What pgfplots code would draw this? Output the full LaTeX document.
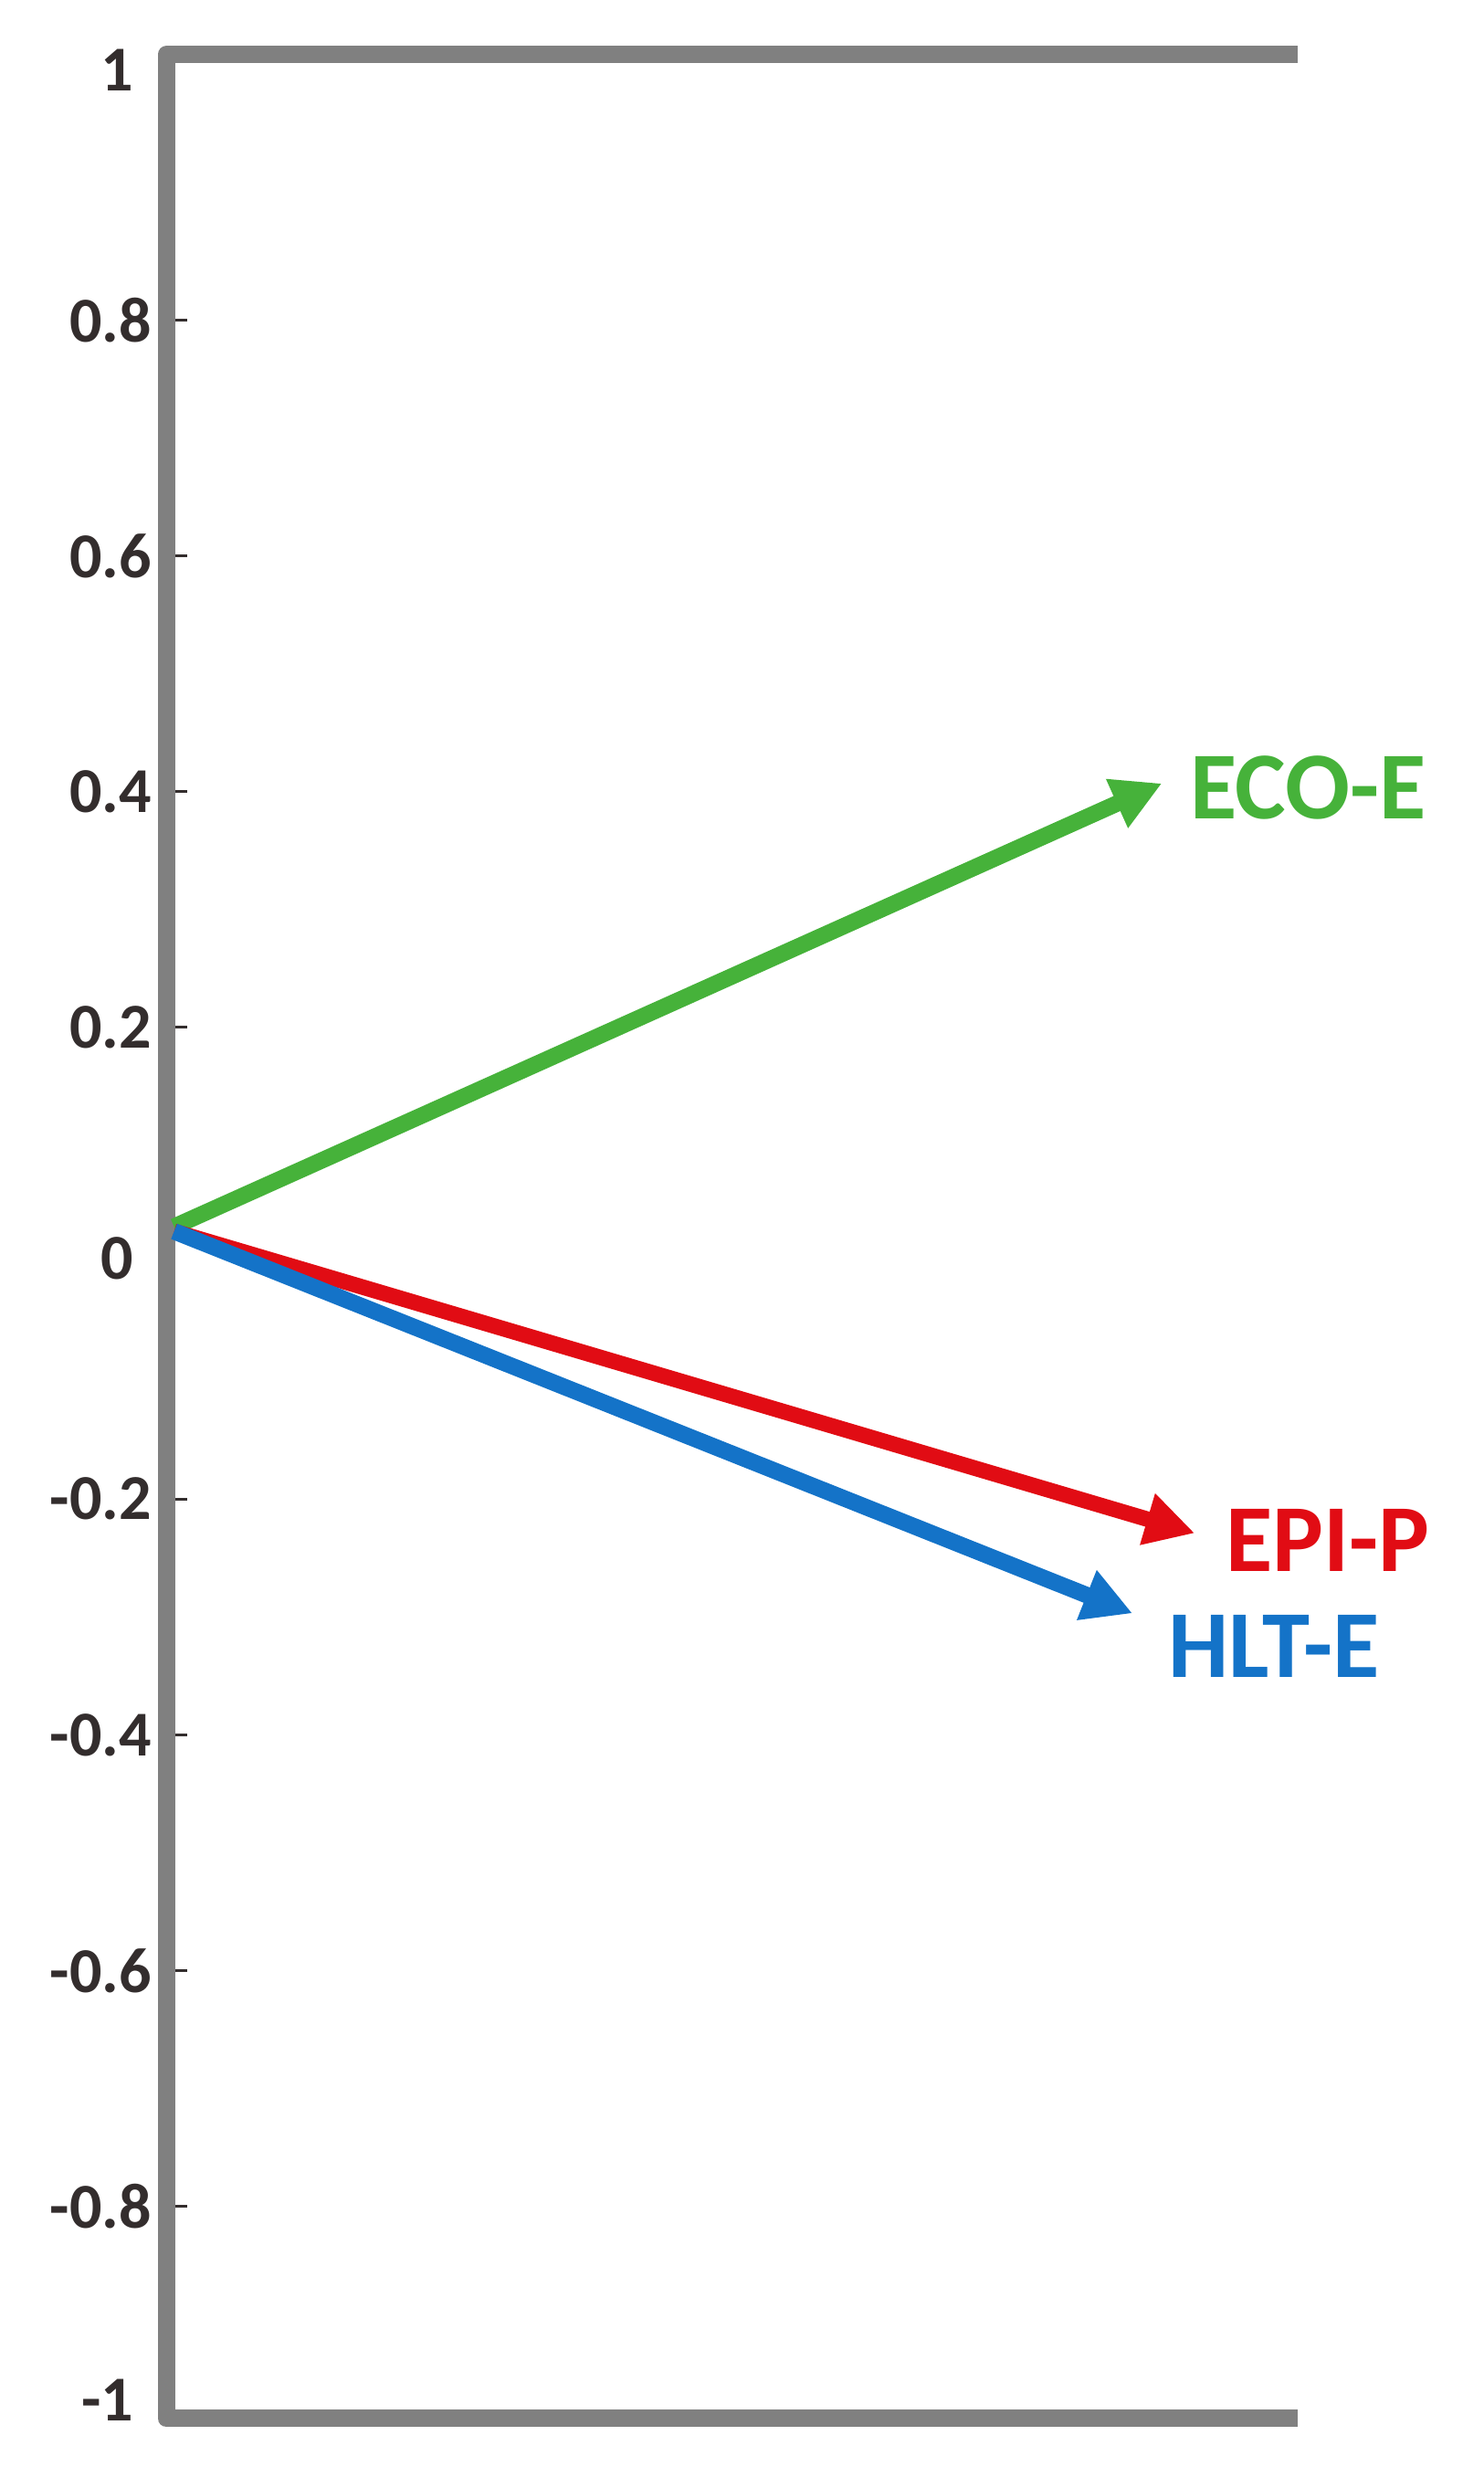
\documentclass[border=0pt]{standalone}
\usepackage{pgfplots}
\pgfplotsset{compat=1.18}
\usepackage{fontspec}
\setmainfont{Carlito}
\usetikzlibrary{arrows.meta}
\definecolor{ecoG}{RGB}{70,178,58}
\definecolor{epiR}{RGB}{225,12,20}
\definecolor{hltB}{RGB}{20,115,200}
\definecolor{axGray}{RGB}{128,128,128}
\definecolor{tickTxt}{RGB}{51,45,45}
\begin{document}
\begin{tikzpicture}
\path[use as bounding box] (0,0) rectangle (324.8pt,540.2pt);
\begin{axis}[
  at={(36.4pt,10.6pt)}, anchor=south west,
  scale only axis, width=247.8pt, height=517.6pt,
  xmin=0, xmax=1, ymin=-0.98, ymax=1.025,
  clip=false,
  hide x axis,
  axis y line*=left,
  y axis line style={draw=none},
  tick align=inside,
  major tick length=4.6pt,
  ytick={-0.8,-0.6,-0.4,-0.2,0.2,0.4,0.6,0.8},
  tick style={draw=tickTxt, line width=0.6pt},
  /pgf/number format/assume math mode=true,
  /pgf/number format/fixed,
  /pgf/number format/precision=1,
  yticklabel style={anchor=east, inner sep=0pt, xshift=-3pt, text=tickTxt,
    font=\bfseries\fontsize{14}{14}\selectfont},
  extra y ticks={1.012,0.004,-0.964},
  extra y tick labels={1,0,-1},
  extra y tick style={major tick length=0pt, tick style={draw=none},
    yticklabel style={xshift=-4pt}},
]
\draw[axGray, line width=3.8pt, line join=round]
  (axis cs:1,1.025) -- (axis cs:0,1.025) -- (axis cs:0,-0.98) -- (axis cs:1,-0.98);
\addplot[ecoG, line width=3.6pt, -{Triangle[length=10.8pt,width=11pt]}]
  coordinates {(0.007,0.031) (0.88,0.407)};
\addplot[epiR, line width=3.4pt, -{Triangle[length=10.8pt,width=11pt]}]
  coordinates {(0.007,0.027) (0.909,-0.229)};
\addplot[hltB, line width=3.6pt, -{Triangle[length=10.8pt,width=11pt]}]
  coordinates {(0.007,0.027) (0.854,-0.297)};
\node[anchor=west, inner sep=0pt, text=ecoG, font=\bfseries\fontsize{21}{21}\selectfont]
  at (axis cs:0.904,0.403) {ECO-E};
\node[anchor=west, inner sep=0pt, text=epiR, font=\bfseries\fontsize{21}{21}\selectfont]
  at (axis cs:0.936,-0.235) {EPI-P};
\node[anchor=west, inner sep=0pt, text=hltB, font=\bfseries\fontsize{21}{21}\selectfont]
  at (axis cs:0.885,-0.325) {HLT-E};
\end{axis}
\end{tikzpicture}
\end{document}
